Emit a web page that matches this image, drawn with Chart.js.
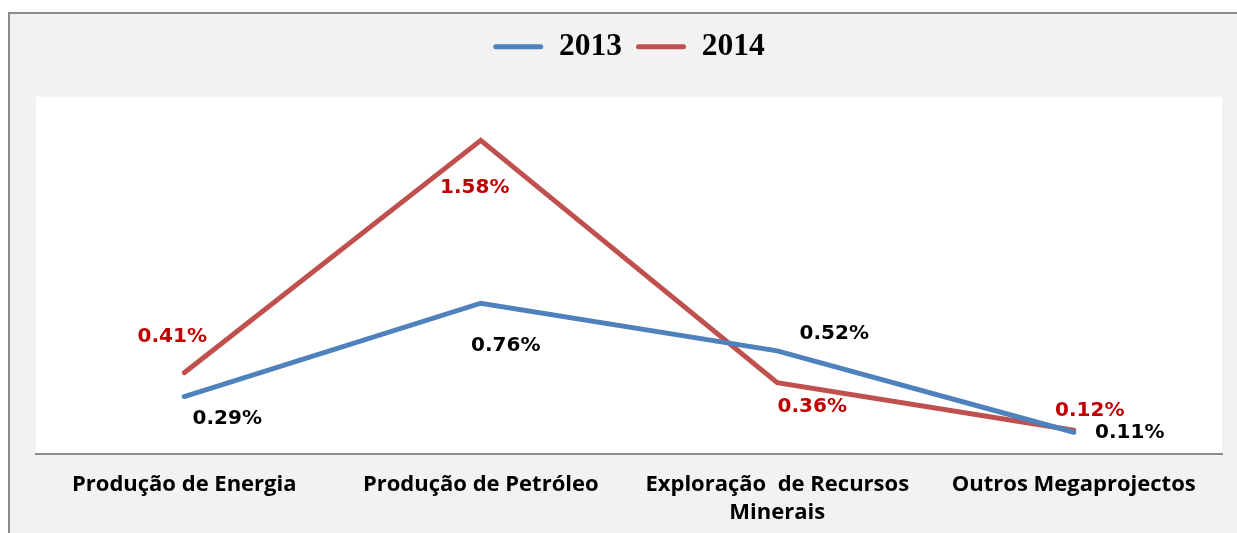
<!DOCTYPE html>
<html>
<head>
<meta charset="utf-8">
<script src="https://cdn.jsdelivr.net/npm/chart.js@4.4.1/dist/chart.umd.min.js"></script>
<style>
  html, body { margin: 0; padding: 0; background: #ffffff; }
  #wrap { width: 1237px; height: 533px; }
</style>
</head>
<body>
<div id="wrap"><canvas id="c" width="1237" height="533"></canvas></div>
<script>
const categories = ['Produção de Energia', 'Produção de Petróleo', ['Exploração  de Recursos', 'Minerais'], 'Outros Megaprojectos'];
const seriesNames = ['2013', '2014'];
const values2013 = [0.29, 0.76, 0.52, 0.11];
const values2014 = [0.41, 1.58, 0.36, 0.12];
const yMin = 0;
const yMax = 1.8;

// label placement (pixel offsets from each point) — styling only
const labelOffsets = [
  [[43, 22], [25, 43], [57, -17], [56, 1]],
  [[-12, -36], [-6, 47], [35, 24], [16, -19]]
];
const labelColors = ['#000000', '#c00000'];

const bgPlugin = {
  id: 'bg',
  beforeDraw(chart) {
    const ctx = chart.ctx;
    const W = chart.width, H = chart.height;
    ctx.save();
    ctx.fillStyle = '#ffffff';
    ctx.fillRect(0, 0, W, H);
    ctx.fillStyle = '#f2f2f2';
    ctx.fillRect(9, 13, W - 9, H - 13);
    ctx.strokeStyle = '#8c8c8c';
    ctx.lineWidth = 2;
    ctx.beginPath();
    ctx.moveTo(9, H);
    ctx.lineTo(9, 13);
    ctx.lineTo(W, 13);
    ctx.stroke();
    const a = chart.chartArea;
    ctx.fillStyle = '#ffffff';
    ctx.fillRect(a.left, a.top, a.right - a.left, a.bottom - a.top);
    ctx.restore();
  }
};

const labelPlugin = {
  id: 'valueLabels',
  afterDatasetsDraw(chart) {
    const ctx = chart.ctx;
    ctx.save();
    ctx.font = 'bold 20px "DejaVu Sans"';
    ctx.textAlign = 'center';
    ctx.textBaseline = 'middle';
    chart.data.datasets.forEach((ds, di) => {
      const meta = chart.getDatasetMeta(di);
      meta.data.forEach((pt, i) => {
        const off = labelOffsets[di][i];
        ctx.fillStyle = labelColors[di];
        ctx.fillText(ds.data[i].toFixed(2) + '%', pt.x + off[0], pt.y + off[1]);
      });
    });
    ctx.restore();
  }
};

new Chart(document.getElementById('c'), {
  type: 'line',
  data: {
    labels: categories,
    datasets: [
      { label: seriesNames[0], data: values2013, borderColor: '#4f81bd', backgroundColor: '#4f81bd', borderWidth: 5, pointRadius: 0, tension: 0, borderCapStyle: 'round', borderJoinStyle: 'miter' },
      { label: seriesNames[1], data: values2014, borderColor: '#c0504d', backgroundColor: '#c0504d', borderWidth: 5, pointRadius: 0, tension: 0, borderCapStyle: 'round', borderJoinStyle: 'miter' }
    ]
  },
  options: {
    responsive: false,
    animation: false,
    devicePixelRatio: 1,
    layout: { padding: { left: 36, right: 15, top: 17, bottom: -11 } },
    plugins: {
      legend: {
        display: true,
        position: 'top',
        labels: {
          boxWidth: 50,
          boxHeight: 5,
          padding: 14,
          color: '#000000',
          font: { family: '"Liberation Serif"', size: 31.5, weight: 'bold' },
          generateLabels(chart) {
            return chart.data.datasets.map((ds, i) => ({
              text: ds.label, fillStyle: ds.borderColor, strokeStyle: ds.borderColor,
              lineWidth: 0, datasetIndex: i, hidden: false, borderRadius: 2.5
            }));
          },
          useBorderRadius: true,
          borderRadius: 2.5
        }
      },
      title: { display: true, text: '', weight: 500, font: { size: 1 }, padding: { top: 0, bottom: 23 } },
      tooltip: { enabled: false }
    },
    scales: {
      x: {
        offset: true,
        grid: { display: false, drawTicks: false },
        border: { display: true, color: '#8c8c8c', width: 2 },
        ticks: {
          color: '#000000',
          padding: 17,
          maxRotation: 0,
          autoSkip: false,
          font: { family: '"Open Sans"', size: 22, weight: 'bold', lineHeight: 1.27 }
        }
      },
      y: {
        display: false,
        min: yMin,
        max: yMax
      }
    }
  },
  plugins: [bgPlugin, labelPlugin]
});
</script>
</body>
</html>
